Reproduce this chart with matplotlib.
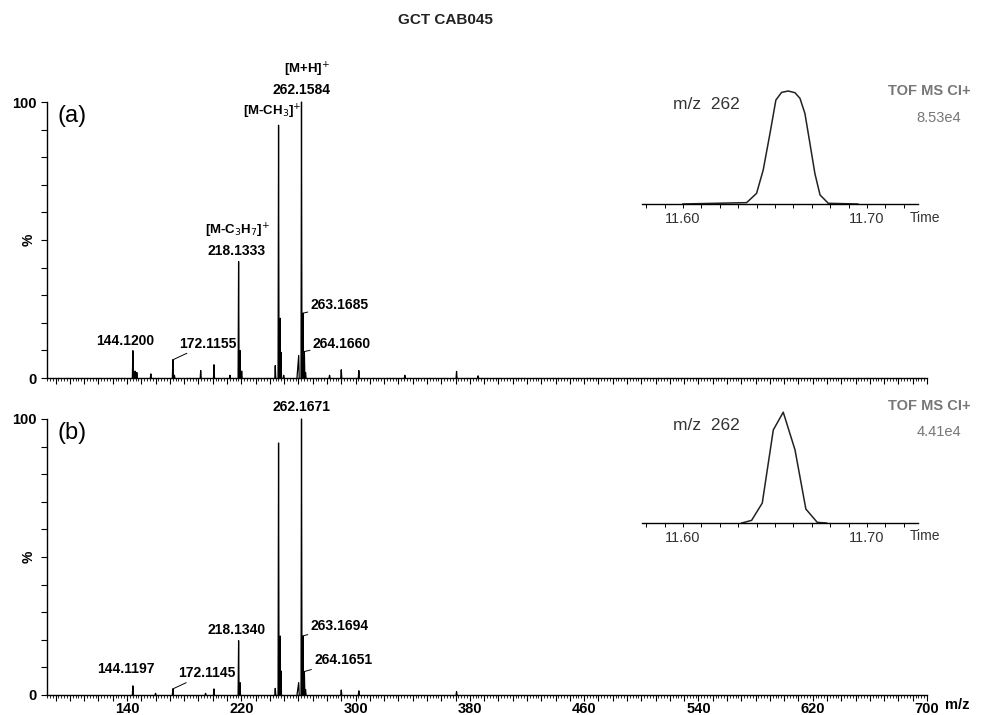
import matplotlib.pyplot as plt
import numpy as np
from matplotlib.ticker import MultipleLocator, FixedLocator

plt.rcParams['font.family'] = ['Liberation Sans', 'DejaVu Sans']

# spectrum (a)
mz_a = [144.12, 145.7, 146.9, 156.7, 172.1155, 173.2, 191.6, 200.9, 212.1, 218.1333, 219.1, 220.3,
        243.8, 246.1, 247.1, 247.8, 249.7, 260.2, 262.1584, 263.1685, 264.166, 265.0, 281.8, 290.0,
        302.3, 334.5, 370.7, 385.8]
int_a = [9.9, 2.5, 2.0, 1.5, 6.6, 1.0, 2.7, 4.8, 1.0, 42.2, 10.0, 2.5,
         4.5, 91.6, 21.7, 9.3, 1.0, 8.2, 100, 23.5, 9.6, 2.0, 1.0, 3.0,
         2.7, 1.0, 2.4, 0.8]
# spectrum (b)
mz_b = [144.1197, 160.0, 172.1145, 195.0, 200.9, 218.134, 219.1, 243.8, 246.1, 247.1, 247.8,
        260.2, 262.1671, 263.1694, 264.1651, 265.0, 290.0, 302.3, 370.7]
int_b = [3.3, 0.6, 2.2, 0.6, 2.2, 19.7, 4.5, 2.4, 91.3, 21.4, 8.7,
         4.5, 100, 21.4, 8.5, 2.0, 1.8, 1.5, 1.2]

# inset chromatograms, m/z 262
time_a = [11.600, 11.6346, 11.6400, 11.6436, 11.6473, 11.6505, 11.6536, 11.6572, 11.6609,
          11.6636, 11.6663, 11.6690, 11.6717, 11.6745, 11.6790, 11.695]
tic_a = [0, 1.2, 9.4, 30, 62.5, 92, 98.8, 100, 98.5, 93.5, 80, 53.7, 27, 8, 0.6, 0]
time_b = [11.6319, 11.6373, 11.6431, 11.6491, 11.6545, 11.6609, 11.6668, 11.6730, 11.6781]
tic_b = [0, 2.4, 18, 84, 100, 66, 12.6, 0.6, 0]

xticklabs = [140, 220, 300, 380, 460, 540, 620, 700]

fig = plt.figure(figsize=(9.87, 7.15), dpi=100)
fig.text(0.451, 0.972, 'GCT CAB045', ha='center', va='center', fontsize=11, fontweight='bold',
         color='#222222')

axa = fig.add_axes([0.0476, 0.4713, 0.8916, 0.386])
axb = fig.add_axes([0.0476, 0.028, 0.8916, 0.386])

def spectrum(ax, mz, inten, tag, labels):
    for m, h in zip(mz, inten):
        w = 1.2 if abs(m - 260.2) < 0.5 else 0.35
        ax.plot([m - w, m, m + 0.35], [0, h, 0], color='black', lw=0.9, clip_on=False)
    ax.set_xlim(84, 700)
    ax.set_ylim(0, 100)
    for s in ['top', 'right']:
        ax.spines[s].set_visible(False)
    ax.spines['left'].set_linewidth(1)
    ax.spines['bottom'].set_linewidth(1)
    ax.yaxis.set_major_locator(FixedLocator([0, 100]))
    ax.yaxis.set_minor_locator(MultipleLocator(10))
    ax.set_yticklabels(['0', '100'], fontsize=10.5, fontweight='bold')
    ax.tick_params(axis='y', which='both', direction='out', length=4, width=0.8)
    ax.xaxis.set_major_locator(MultipleLocator(10))
    ax.xaxis.set_minor_locator(MultipleLocator(2))
    ax.tick_params(axis='x', which='major', direction='out', length=4, width=0.8)
    ax.tick_params(axis='x', which='minor', direction='out', length=2.5, width=0.6)
    ax.text(-0.021, 0.5, '%', transform=ax.transAxes, rotation=90, fontsize=10,
            fontweight='bold', ha='center', va='center')
    ax.text(0.012, 0.95, tag, transform=ax.transAxes, fontsize=17, va='center', ha='left')
    for txt, xy, xytext, ha in labels:
        if xytext is None:
            ax.text(xy[0], xy[1], txt, ha=ha, va='center', fontsize=10, fontweight='bold')
        else:
            ax.annotate(txt, xy=xy, xytext=xytext, ha=ha, va='center', fontsize=10,
                        fontweight='bold', arrowprops=dict(arrowstyle='-', lw=0.7, shrinkA=0, shrinkB=0))

spectrum(axa, mz_a, int_a, '(a)', [
    ('144.1200', (139, 13.5), None, 'center'),
    ('172.1155', (172.12, 6.6), (176.5, 12.5), 'left'),
    ('218.1333', (217, 46), None, 'center'),
    ('263.1685', (263.17, 23.5), (268.5, 26.5), 'left'),
    ('264.1660', (264.17, 9.6), (270, 12.5), 'left'),
    ('262.1584', (262.3, 104.5), None, 'center'),
])
axa.set_xticklabels([])
axa.text(217.5, 53.5, r'[M-C$_3$H$_7$]$^{+}$', ha='center', va='center', fontsize=9.5, fontweight='bold')
axa.text(242, 96.5, r'[M-CH$_3$]$^{+}$', ha='center', va='center', fontsize=9.5, fontweight='bold')
axa.text(266, 111.5, r'[M+H]$^{+}$', ha='center', va='center', fontsize=9.5, fontweight='bold')

spectrum(axb, mz_b, int_b, '(b)', [
    ('144.1197', (139, 9.5), None, 'center'),
    ('172.1145', (172.11, 2.2), (176, 8), 'left'),
    ('218.1340', (217, 23.5), None, 'center'),
    ('263.1694', (263.17, 21.4), (268.5, 25), 'left'),
    ('264.1651', (264.17, 8.5), (271, 12.5), 'left'),
    ('262.1671', (262.3, 104.5), None, 'center'),
])
axb.set_xticks([v for v in np.arange(90, 701, 10)])
axb.set_xticklabels([str(v) if v in xticklabs else '' for v in np.arange(90, 701, 10)],
                    fontsize=10.5, fontweight='bold')
axb.tick_params(axis='x', pad=1)
axb.text(1.02, -0.035, 'm/z', transform=axb.transAxes, fontsize=10.5, fontweight='bold',
         ha='left', va='center')

def inset(rect, t, y, scale, label_y):
    ax = fig.add_axes(rect)
    ax.plot(t, y, color='#222222', lw=1.1, clip_on=False)
    ax.set_xlim(11.5777, 11.7277)
    ax.set_ylim(0, 100)
    for s in ['top', 'right', 'left']:
        ax.spines[s].set_visible(False)
    ax.spines['bottom'].set_linewidth(1)
    ax.set_yticks([])
    ax.xaxis.set_major_locator(FixedLocator([11.60, 11.70]))
    ax.xaxis.set_minor_locator(MultipleLocator(0.01))
    ax.set_xticklabels(['11.60', '11.70'], fontsize=10.5, color='#333333')
    ax.tick_params(axis='x', which='both', direction='out', length=3, width=0.7, pad=3)
    ax.patch.set_alpha(0)
    ax.text(0.235, 0.88, 'm/z  262', transform=ax.transAxes, fontsize=12.5, color='#333333',
            ha='center', va='center')
    ax.text(0.97, -0.12, 'Time', transform=ax.transAxes, fontsize=10, color='#333333',
            ha='left', va='center')
    ax.text(1.04, label_y, 'TOF MS CI+', transform=ax.transAxes, fontsize=10.5, fontweight='bold',
            color='#777777', ha='center', va='center')
    ax.text(1.075, label_y - 0.24, scale, transform=ax.transAxes, fontsize=10.5,
            color='#777777', ha='center', va='center')
    return ax

inset([0.6504, 0.7147, 0.2796, 0.158], time_a, tic_a, '8.53e4', 1.0)
inset([0.6504, 0.2685, 0.2796, 0.155], time_b, tic_b, '4.41e4', 1.06)

fig.savefig('out.png', dpi=100)
